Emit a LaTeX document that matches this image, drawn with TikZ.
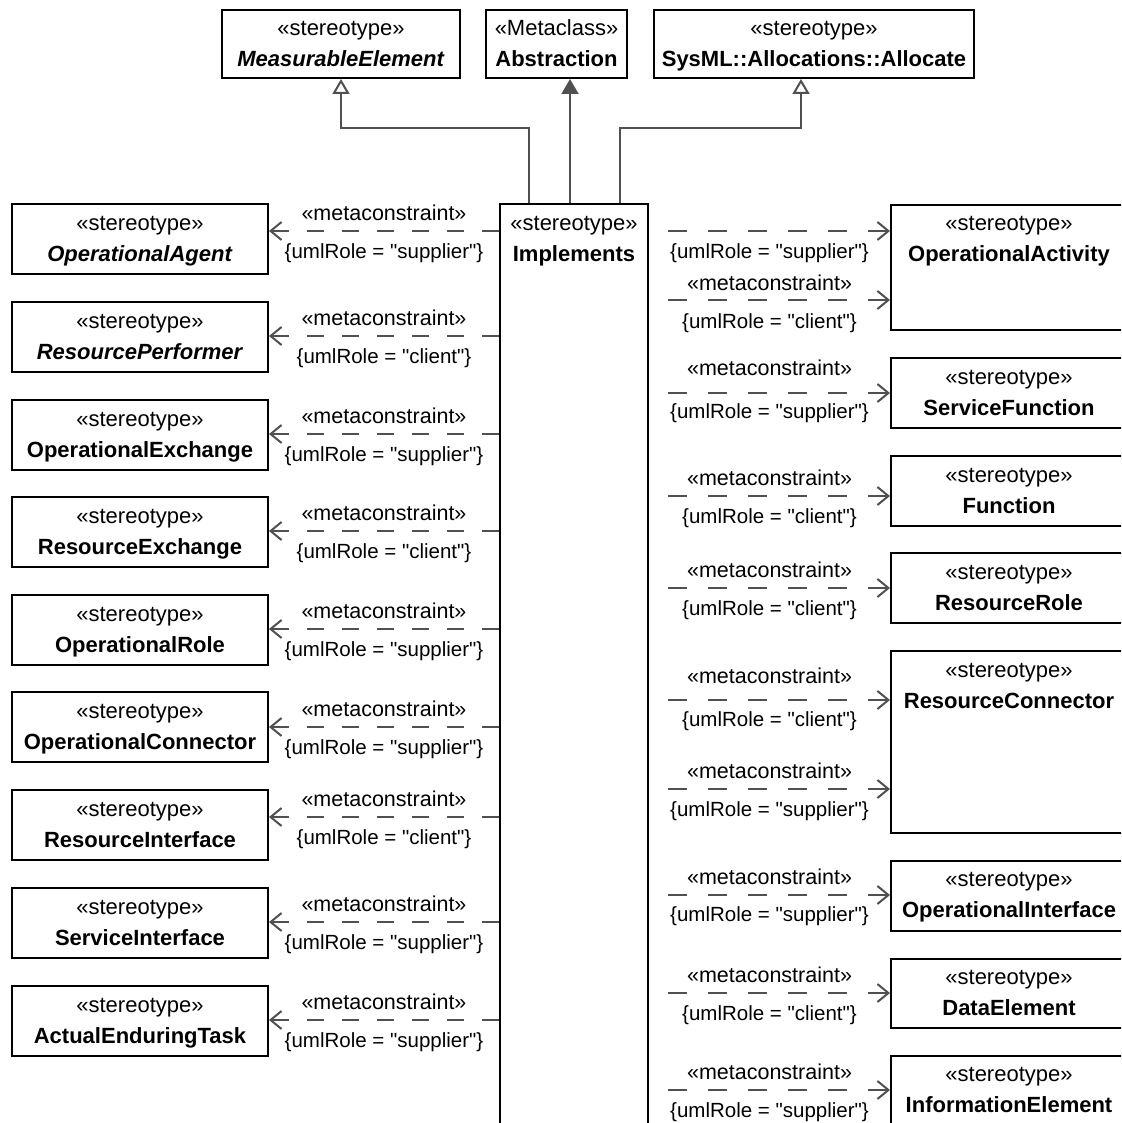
\documentclass[tikz,border=0pt]{standalone}
\usepackage{fontspec}
\setmainfont{Liberation Sans}[Ligatures=TeXOff]
\usetikzlibrary{arrows.meta}
\definecolor{lc}{HTML}{505050}
\newcommand\ubox[8][37]{%
  \node[box, minimum width=#5pt, minimum height=#6pt] (#2) at (#3,#4) {};
  \node[txt] at ([yshift=-#1pt]#2.north) {\strut #7\\\strut #8};
}
\newcommand\metalbl{«metaconstraint»}
\begin{document}
\begin{tikzpicture}[x=1pt,y=-1pt,
  box/.style={draw=black, line width=2pt, fill=white, inner sep=0pt, anchor=north west},
  txt/.style={font=\fontsize{22}{31}\selectfont, align=center, inner sep=0pt},
  mlbl/.style={font=\fontsize{21.5}{24}\selectfont, inner sep=0pt},
  rlbl/.style={font=\fontsize{20.5}{24}\selectfont, inner sep=0pt},
  depl/.style={draw=lc, line width=2pt, dash pattern=on 17pt off 18pt, -{Straight Barb[length=11pt,width=18pt,line width=2pt]}},
  depr/.style={draw=lc, line width=2pt, dash pattern=on 19pt off 21pt, {Straight Barb[length=11pt,width=18pt,line width=2pt]}-},
  gen/.style={draw=lc, line width=2pt, -{Triangle[open, length=15pt, width=17pt, fill=white]}},
  real/.style={draw=lc, line width=2pt, -{Triangle[length=15pt, width=17pt]}}]
\useasboundingbox (0,0) rectangle (1121,1123);
\clip (0,0) rectangle (1121,1123);
\fill[white] (0,0) rectangle (1121,1123);

% top boxes
\ubox[36]{meas}{221}{9}{238}{68}{«stereotype»}{\textbf{\textit{MeasurableElement}}}
\ubox[36]{abs}{485}{9}{141}{68}{«Metaclass»}{\textbf{Abstraction}}
\ubox[36]{alloc}{653}{9}{320}{68}{«stereotype»}{\textbf{SysML::Allocations::Allocate}}

% central box
\node[box, minimum width=148pt, minimum height=960pt] (impl) at (499,203) {};
\node[txt] at ([yshift=-37pt]impl.north) {\strut«stereotype»\\\strut\textbf{Implements}};

% left boxes
\ubox{oa}{11}{203}{256}{70}{«stereotype»}{\textbf{\textit{OperationalAgent}}}
\ubox{rp}{11}{301}{256}{70}{«stereotype»}{\textbf{\textit{ResourcePerformer}}}
\ubox{oe}{11}{399}{256}{70}{«stereotype»}{\textbf{OperationalExchange}}
\ubox{re}{11}{496}{256}{70}{«stereotype»}{\textbf{ResourceExchange}}
\ubox{orole}{11}{594}{256}{70}{«stereotype»}{\textbf{OperationalRole}}
\ubox{oc}{11}{691}{256}{70}{«stereotype»}{\textbf{OperationalConnector}}
\ubox{ri}{11}{789}{256}{70}{«stereotype»}{\textbf{ResourceInterface}}
\ubox{si}{11}{887}{256}{70}{«stereotype»}{\textbf{ServiceInterface}}
\ubox{aet}{11}{985}{256}{70}{«stereotype»}{\textbf{ActualEnduringTask}}

% right boxes
\ubox[36]{oact}{890}{204}{236}{125}{«stereotype»}{\textbf{OperationalActivity}}
\ubox{sf}{890}{357}{236}{70}{«stereotype»}{\textbf{ServiceFunction}}
\ubox{fn}{890}{455}{236}{70}{«stereotype»}{\textbf{Function}}
\ubox{rr}{890}{552}{236}{70}{«stereotype»}{\textbf{ResourceRole}}
\ubox{rc}{890}{650}{236}{182}{«stereotype»}{\textbf{ResourceConnector}}
\ubox[36]{oi}{890}{860}{236}{70}{«stereotype»}{\textbf{OperationalInterface}}
\ubox[36]{de}{890}{958}{236}{69}{«stereotype»}{\textbf{DataElement}}
\ubox[36]{ie}{890}{1055}{236}{70}{«stereotype»}{\textbf{InformationElement}}

% generalizations
\coordinate (g1) at ([xshift=-45pt]impl.north);
\coordinate (g2) at ([xshift=-4pt]impl.north);
\coordinate (g3) at ([xshift=46pt]impl.north);
\draw[gen] (g1) -- ++(0,-75) -| (meas.south);
\draw[real] (g2) -- (g2 |- abs.south);
\draw[gen] (g3) -- ++(0,-75) -| ([xshift=-13pt]alloc.south);

% left dependencies
\foreach \n/\y/\r in {oa/231/supplier, rp/336/client, oe/434/supplier, re/531/client,
  orole/629/supplier, oc/727/supplier, ri/817/client, si/922/supplier, aet/1020/supplier}{
  \draw[depl] (impl.west |- 0,\y) -- (\n.east |- 0,\y)
    node[midway, mlbl, yshift=18pt] {\metalbl}
    node[midway, rlbl, yshift=-22pt] {\{umlRole = "\r"\}};
}

% right dependencies
\draw[depr] (oact.west |- 0,231) -- (impl.east |- 0,231)
  node[midway, rlbl, yshift=-22pt] {\{umlRole = "supplier"\}};
\foreach \n/\y/\r/\a/\b in {oact/300/client/17/23, sf/393/supplier/25/20, fn/496/client/18/22,
  rr/588/client/18/22, rc/700/client/24/21, rc/789/supplier/18/22, oi/895/supplier/18/21,
  de/993/client/18/22, ie/1090/supplier/18/22}{
  \draw[depr] (\n.west |- 0,\y) -- (impl.east |- 0,\y)
    node[midway, mlbl, yshift=\a pt] {\metalbl}
    node[midway, rlbl, yshift=-\b pt] {\{umlRole = "\r"\}};
}
\end{tikzpicture}
\end{document}
